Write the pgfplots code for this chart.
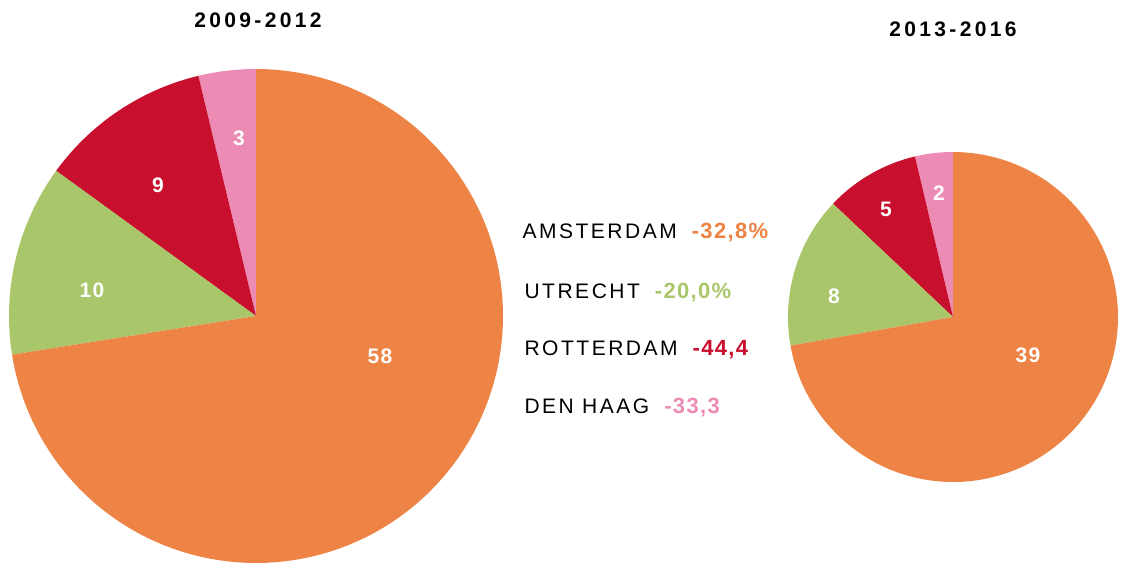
\documentclass[border=0pt]{standalone}
\usepackage{fontspec}
\setmainfont{Liberation Sans}
\newfontfamily\titlefont[LetterSpace=16]{Liberation Sans}
\newfontfamily\legfont[LetterSpace=12]{Liberation Sans}
\newfontfamily\valfont[LetterSpace=6]{Liberation Sans}
\usepackage{pgfplots}
\pgfplotsset{compat=1.18}
\definecolor{cOr}{RGB}{237,131,68}
\definecolor{cGr}{RGB}{169,199,106}
\definecolor{cRd}{RGB}{200,16,46}
\definecolor{cPk}{RGB}{236,139,180}
% slice: cx cy r start end colour
\newcommand\slice[6]{%
  \edef\tmp{\noexpand\addplot[fill=#6,draw=none,domain=#4:#5,samples=120]
    ({#1+#3*cos(x)},{#2-#3*sin(x)}) -- (axis cs:#1,#2) -- cycle;}\tmp}
% pie: cx cy r  Den Haag, Rotterdam, Utrecht, Amsterdam
\newcommand\pie[7]{%
  \pgfmathsetmacro\tot{#4+#5+#6+#7}%
  \pgfmathsetmacro\aB{90+360*#4/\tot}%
  \pgfmathsetmacro\aC{\aB+360*#5/\tot}%
  \pgfmathsetmacro\aD{\aC+360*#6/\tot}%
  \slice{#1}{#2}{#3}{90}{\aB}{cPk}%
  \slice{#1}{#2}{#3}{\aB}{\aC}{cRd}%
  \slice{#1}{#2}{#3}{\aC}{\aD}{cGr}%
  \slice{#1}{#2}{#3}{\aD}{450}{cOr}%
}
\tikzset{lab/.style={font=\valfont\bfseries\fontsize{21}{23}\selectfont,text=white},
  ttl/.style={anchor=base,text=black,font=\titlefont\bfseries\fontsize{21}{23}\selectfont},
  leg/.style={anchor=base west,text=black,font=\legfont\fontsize{21}{23}\selectfont}}
\newcommand\val[2]{{\valfont\bfseries\fontsize{22}{24}\selectfont\color{#1}#2}}
\begin{document}
\begin{tikzpicture}
\begin{axis}[x=1pt,y=1pt,xmin=0,xmax=1126,ymin=0,ymax=563,y dir=reverse,
  hide axis,clip=true]
\path (rel axis cs:0,0) rectangle (rel axis cs:1,1);
% 2009-2012: Amsterdam 58, Utrecht 10, Rotterdam 9, Den Haag 3
\pie{256}{316}{247}{3}{9}{10}{58}
% 2013-2016: Amsterdam 39, Utrecht 8, Rotterdam 5, Den Haag 2
\pie{953}{317}{165}{2}{5}{8}{39}
\node[lab] at (axis cs:239,138) {3};
\node[lab] at (axis cs:158,185) {9};
\node[lab] at (axis cs:92,290) {10};
\node[lab] at (axis cs:380,356) {58};
\node[lab] at (axis cs:939,193) {2};
\node[lab] at (axis cs:886,209) {5};
\node[lab] at (axis cs:834,296) {8};
\node[lab] at (axis cs:1028,355) {39};
\node[ttl] at (axis cs:258,27) {2009-2012};
\node[ttl] at (axis cs:953,36) {2013-2016};
\node[leg] at (axis cs:519,238) {AMSTERDAM\hspace{15pt}\val{cOr}{-32,8\%}};
\node[leg] at (axis cs:521,298) {UTRECHT\hspace{15pt}\val{cGr}{-20,0\%}};
\node[leg] at (axis cs:521,355) {ROTTERDAM\hspace{15pt}\val{cRd}{-44,4}};
\node[leg] at (axis cs:521,413) {DEN HAAG\hspace{15pt}\val{cPk}{-33,3}};
\end{axis}
\end{tikzpicture}
\end{document}
